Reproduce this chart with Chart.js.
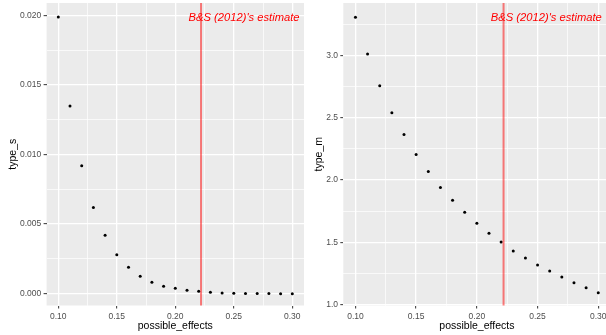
<!DOCTYPE html>
<html>
<head>
<meta charset="utf-8">
<script src="https://cdn.jsdelivr.net/npm/chart.js@4/dist/chart.umd.min.js"></script>
<style>
  html, body { margin: 0; padding: 0; background: #fff; }
  body { width: 606px; height: 335px; overflow: hidden; position: relative; }
  .panel { position: absolute; top: 0; }
</style>
</head>
<body>
<canvas id="typeSChart" class="panel" width="306" height="335" style="left:0px"></canvas>
<canvas id="typeMChart" class="panel" width="306" height="335" style="left:306px"></canvas>
<script>
// Simulated design analysis: Type S and Type M error against the assumed true effect
const possibleEffects = [0.10, 0.11, 0.12, 0.13, 0.14, 0.15, 0.16, 0.17, 0.18, 0.19, 0.20,
                         0.21, 0.22, 0.23, 0.24, 0.25, 0.26, 0.27, 0.28, 0.29, 0.30];
const typeS = [0.0199, 0.0135, 0.0092, 0.0062, 0.0042, 0.0028, 0.0019, 0.00125, 0.00082, 0.00053, 0.00039,
               0.00024, 0.00017, 0.0001, 0.00005, 0.00003, 0.00002, 0.00001, 0.000005, 0.000003, 0.000002];
const typeM = [3.306, 3.011, 2.756, 2.540, 2.365, 2.205, 2.069, 1.941, 1.838, 1.742, 1.654,
               1.574, 1.503, 1.431, 1.375, 1.319, 1.271, 1.223, 1.176, 1.136, 1.096];

const xMajorTicks = [0.10, 0.15, 0.20, 0.25, 0.30];
const xMinorTicks = [0.125, 0.175, 0.225, 0.275];
const typeSMajorTicks = [0.000, 0.005, 0.010, 0.015, 0.020];
const typeSMinorTicks = [0.0025, 0.0075, 0.0125, 0.0175];
const typeMMajorTicks = [1.0, 1.5, 2.0, 2.5, 3.0];
const typeMMinorTicks = [1.25, 1.75, 2.25, 2.75, 3.25];

const bsEstimate = 0.222;
const estimateLabel = "B&S (2012)'s estimate";

const FONT = "'Liberation Sans', Arial, Helvetica, sans-serif";
Chart.defaults.font.family = FONT;

const isIn = (list, v) => list.some(m => Math.abs(m - v) < 1e-9);

// grey panel background, estimate line and its label
const panelPlugin = {
  id: 'ggPanel',
  beforeDraw(chart) {
    const a = chart.chartArea, ctx = chart.ctx;
    ctx.save();
    ctx.fillStyle = '#EBEBEB';
    ctx.fillRect(a.left, a.top, a.right - a.left, a.bottom - a.top);
    ctx.restore();
  },
  afterDatasetsDraw(chart, args, opts) {
    const a = chart.chartArea, ctx = chart.ctx;
    const x = chart.scales.x.getPixelForValue(bsEstimate);
    ctx.save();
    ctx.strokeStyle = 'rgba(255,0,0,0.5)';
    ctx.lineWidth = 2;
    ctx.beginPath();
    ctx.moveTo(x, a.top);
    ctx.lineTo(x, a.bottom);
    ctx.stroke();
    ctx.fillStyle = '#FF0000';
    ctx.font = 'italic 11.2px ' + FONT;
    ctx.textAlign = 'right';
    ctx.textBaseline = 'middle';
    ctx.fillText(estimateLabel, a.right - opts.inset, a.top + 15.3);
    ctx.restore();
  }
};

function makePanel(id, values, yMajor, yMinor, yMin, yMax, yTitle, digits, yAxisWidth, yTitlePad, padRight, inset) {
  const xAll = [...xMajorTicks, ...xMinorTicks].sort((a, b) => a - b);
  const yAll = [...yMajor, ...yMinor].sort((a, b) => a - b);
  const gridWidth = list => c => (c.tick && isIn(list, c.tick.value)) ? 1.3 : 0.7;
  const tickCol = list => c => (c.tick && isIn(list, c.tick.value)) ? '#333333' : 'rgba(0,0,0,0)';
  const tickW = list => c => (c.tick && isIn(list, c.tick.value)) ? 1 : 0;

  return new Chart(document.getElementById(id), {
    type: 'scatter',
    data: {
      datasets: [{
        data: possibleEffects.map((p, i) => ({ x: p, y: values[i] })),
        backgroundColor: '#000000',
        borderWidth: 0,
        pointRadius: 1.5,
        pointHoverRadius: 1.5
      }]
    },
    options: {
      responsive: false,
      animation: false,
      devicePixelRatio: 1,
      layout: { padding: { top: 3, right: padRight, bottom: 0, left: 0 } },
      plugins: {
        legend: { display: false },
        tooltip: { enabled: false },
        ggPanel: { inset: inset }
      },
      scales: {
        x: {
          type: 'linear',
          min: 0.09,
          max: 0.31,
          afterBuildTicks: s => { s.ticks = xAll.map(v => ({ value: v })); },
          afterFit: s => { s.height = 29.5; s.paddingLeft = 0; s.paddingRight = 0; },
          border: { display: false },
          grid: {
            color: '#FFFFFF',
            lineWidth: gridWidth(xMajorTicks),
            drawTicks: true,
            tickLength: 3,
            tickColor: tickCol(xMajorTicks),
            tickWidth: tickW(xMajorTicks)
          },
          ticks: {
            autoSkip: false,
            maxRotation: 0,
            color: '#4D4D4D',
            font: { size: 8.5 },
            padding: 2.6,
            callback: v => isIn(xMajorTicks, v) ? v.toFixed(2) : ''
          },
          title: {
            display: true,
            text: 'possible_effects',
            color: '#000000',
            font: { size: 10.5 },
            padding: { top: 0, bottom: 2.2 }
          }
        },
        y: {
          type: 'linear',
          min: yMin,
          max: yMax,
          afterBuildTicks: s => { s.ticks = yAll.map(v => ({ value: v })); },
          afterFit: s => { s.width = yAxisWidth; s.paddingTop = 0; s.paddingBottom = 0; },
          border: { display: false },
          grid: {
            color: '#FFFFFF',
            lineWidth: gridWidth(yMajor),
            drawTicks: true,
            tickLength: 3,
            tickColor: tickCol(yMajor),
            tickWidth: tickW(yMajor)
          },
          ticks: {
            autoSkip: false,
            color: '#4D4D4D',
            font: { size: 8.5 },
            padding: 2.3,
            callback: v => isIn(yMajor, v) ? v.toFixed(digits) : ''
          },
          title: {
            display: true,
            text: yTitle,
            color: '#000000',
            font: { size: 10.5 },
            padding: { top: yTitlePad, bottom: 0 }
          }
        }
      }
    },
    plugins: [panelPlugin]
  });
}

makePanel('typeSChart', typeS, typeSMajorTicks, typeSMinorTicks, -0.00085, 0.0209, 'type_s', 3, 46.6, 6.7, 2, 4.5);
makePanel('typeMChart', typeM, typeMMajorTicks, typeMMinorTicks, 0.994, 3.42, 'type_m', 1, 37.3, 7.2, 1.6, 8.6);
</script>
</body>
</html>
